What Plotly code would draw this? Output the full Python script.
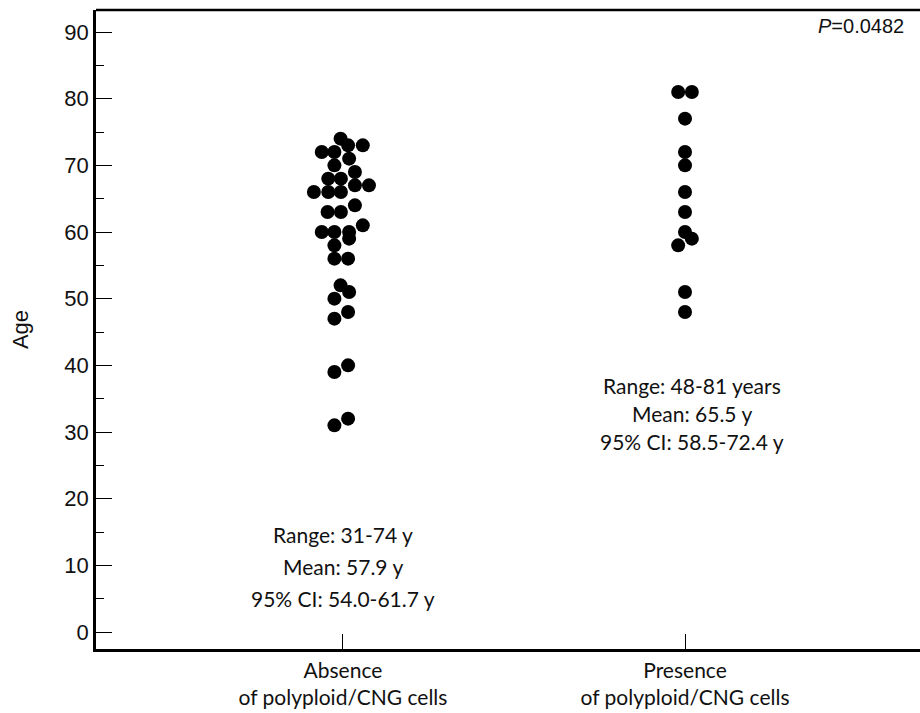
import plotly.graph_objects as go

categories = ["Absence<br>of polyploid/CNG cells", "Presence<br>of polyploid/CNG cells"]

# Absence group: ages and horizontal swarm offsets (category units)
absence_age = [74, 73, 73, 72, 72, 71, 70, 69, 68, 68, 67, 67, 66, 66, 66, 64, 63, 63,
               61, 60, 60, 60, 59, 58, 56, 56, 52, 51, 50, 48, 47, 40, 39, 32, 31]
absence_off = [-0.007, 0.015, 0.058, -0.062, -0.025, 0.018, -0.025, 0.035, -0.043, -0.006,
               0.035, 0.076, -0.085, -0.043, -0.006, 0.035, -0.045, -0.006,
               0.058, -0.062, -0.025, 0.018, 0.018, -0.025, -0.025, 0.015, -0.007, 0.018,
               -0.025, 0.015, -0.025, 0.015, -0.025, 0.015, -0.025]

# Presence group
presence_age = [81, 81, 77, 72, 70, 66, 63, 60, 59, 58, 51, 48]
presence_off = [-0.02, 0.02, 0.0, 0.0, 0.0, 0.0, 0.0, 0.0, 0.02, -0.02, 0.0, 0.0]

stats_absence = ["Range: 31-74 y", "Mean: 57.9 y", "95% CI: 54.0-61.7 y"]
stats_presence = ["Range: 48-81 years", "Mean: 65.5 y", "95% CI: 58.5-72.4 y"]
p_text = "<i>P</i>=0.0482"

fig = go.Figure()
fig.add_trace(go.Scatter(
    x=[0 + o for o in absence_off], y=absence_age, mode="markers",
    marker=dict(color="black", size=14, line=dict(width=0)), showlegend=False))
fig.add_trace(go.Scatter(
    x=[1 + o for o in presence_off], y=presence_age, mode="markers",
    marker=dict(color="black", size=14, line=dict(width=0)), showlegend=False))

txtfont = dict(family="Lato, Carlito, Calibri, sans-serif", size=21, color="#111")
# one annotation per line, centred on the given data y, lines spaced in pixels
for xc, yc, lines, gap in [(0.0, 9.9, stats_absence, 32), (1.02, 32.8, stats_presence, 28)]:
    for i, line in enumerate(lines):
        fig.add_annotation(x=xc, y=yc, xref="x", yref="y", text=line, showarrow=False,
                           font=txtfont, align="center", yshift=-(i - 1) * gap)
fig.add_annotation(x=0.983, y=90.9, xref="paper", yref="y", xanchor="right", text=p_text,
                   showarrow=False,
                   font=dict(family="Liberation Sans, Arial, sans-serif", size=20, color="#111"))

# top frame line
fig.add_shape(type="line", xref="paper", yref="paper", x0=0, x1=1, y0=1, y1=1,
              line=dict(color="black", width=2.5))

fig.update_layout(
    width=920, height=713,
    margin=dict(l=96, r=0, t=10, b=64),
    plot_bgcolor="white", paper_bgcolor="white",
    xaxis=dict(range=[-0.722, 1.687], tickvals=[0, 1], ticktext=categories,
               ticks="inside", ticklen=15, tickwidth=1.2, tickcolor="black",
               ticklabelstandoff=1, automargin=False,
               showline=True, linecolor="black", linewidth=2.5, showgrid=False, zeroline=False,
               tickfont=dict(family="Lato, Carlito, Calibri, sans-serif", size=21, color="#111")),
    yaxis=dict(range=[-2.55, 93.3], tickvals=list(range(0, 91, 10)),
               ticks="inside", ticklen=16, tickwidth=1.2, tickcolor="black",
               automargin=False,
               minor=dict(ticks="inside", ticklen=8, dtick=5, tickcolor="black", tickwidth=1),
               showline=True, linecolor="black", linewidth=2.5, showgrid=False, zeroline=False,
               tickfont=dict(family="Liberation Sans, Arial, sans-serif", size=22, color="#111"),
               title=dict(text="Age", font=dict(family="Liberation Sans, Arial, sans-serif", size=22, color="#111"),
                          standoff=30)),
)

fig.write_html("out.html", config={"displayModeBar": False},
               post_script="document.body.style.margin='0';")
